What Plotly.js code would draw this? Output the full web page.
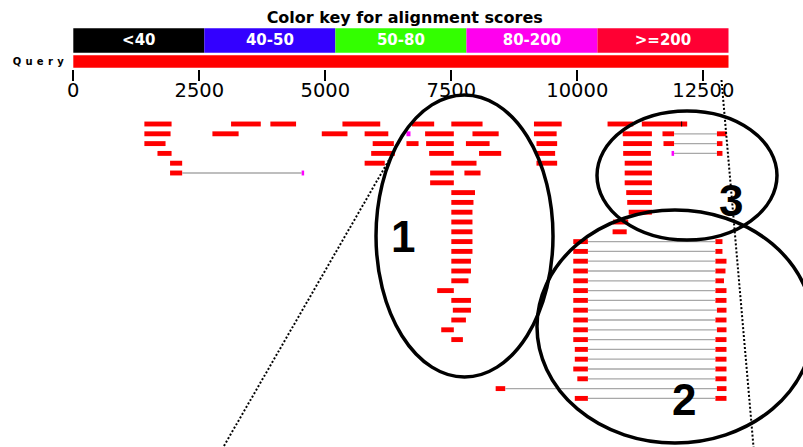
<!DOCTYPE html>
<html>
<head>
<meta charset="utf-8">
<script src="https://cdn.plot.ly/plotly-3.0.1.min.js"></script>
<style>
html,body{margin:0;padding:0;background:#fff;overflow:hidden}
#chart{width:803px;height:447px}
.y2tick text{letter-spacing:4.3px}
</style>
</head>
<body>
<div id="chart"></div>
<script>
// ---- data ----
const queryLength = 13000;
const keyLabels = ['<40', '40-50', '50-80', '80-200', '>=200'];
const keyColors = ['#000000', '#3300ff', '#33ff00', '#ff00ee', '#ff0033'];
const hitColors = ['#000000', '#0000ff', '#00ff00', '#ff00ff', '#ff0000'];
const axisTicks = [0, 2500, 5000, 7500, 10000, 12500];

// one inner array per row of the overview: HSP start / end on the query
const hitStart = [
  [1410, 3130, 3910, 5340, 6720, 7500, 9140, 10600, 11280, 12060],
  [1410, 2760, 4930, 5780, 6610, 6980, 7920, 9140, 10900, 11690, 12770],
  [1410, 5940, 6610, 7000, 7790, 9190, 10910, 11710, 12770],
  [1670, 5910, 7060, 8050, 9190, 10910, 11870, 12770],
  [1920, 5780, 7500, 9190, 10940],
  [1920, 4530, 7080, 7760, 10940],
  [7080, 10940], [7500, 10970], [7500, 10990], [7500, 11020], [7500, 10710], [7500, 10700],
  [7500, 9920, 12740], [7500, 9920, 12740], [7500, 9920, 12740], [7500, 9920, 12740],
  [7500, 9920, 12740], [7220, 9920, 12740], [7500, 9920, 12740], [7530, 9920, 12770],
  [7500, 9920, 12740], [7300, 9920, 12770], [7500, 9920, 12740],
  [9950, 12740], [9950, 12740], [9920, 12740], [10000, 12740], [8380, 12770], [9950, 12740]
];
const hitEnd = [
  [1950, 3720, 4420, 6090, 7160, 8120, 9690, 11110, 12180, 12080],
  [1930, 3280, 5440, 6250, 6690, 7550, 8440, 9590, 11480, 11920, 12960],
  [1830, 6360, 6850, 7550, 8260, 9600, 11480, 11920, 12880],
  [1950, 6380, 7550, 8490, 9560, 11460, 11920, 12880],
  [2160, 6180, 8000, 9600, 11480],
  [2160, 4580, 7550, 8080, 11480],
  [7550, 11480], [7970, 11480], [7940, 11480], [7920, 11480], [7920, 11010], [7920, 10980],
  [7920, 10210, 12880], [7920, 10210, 12880], [7890, 10210, 12960], [7890, 10210, 12940],
  [7840, 10210, 12910], [7550, 10210, 12960], [7890, 10210, 12960], [7890, 10210, 12960],
  [7790, 10210, 12960], [7550, 10210, 12960], [7730, 10210, 12960],
  [10210, 12960], [10210, 12960], [10210, 12960], [10210, 12960], [8570, 12960], [10210, 12960]
];
// score class of each HSP: index into keyLabels
const hitScore = [
  [4, 4, 4, 4, 4, 4, 4, 4, 4, 0],
  [4, 4, 4, 4, 3, 4, 4, 4, 4, 4, 4],
  [4, 4, 4, 4, 4, 4, 4, 4, 4],
  [4, 4, 4, 4, 4, 4, 3, 4],
  [4, 4, 4, 4, 4],
  [4, 3, 4, 4, 4],
  [4, 4], [4, 4], [4, 4], [4, 4], [4, 4], [4, 4],
  [4, 4, 4], [4, 4, 4], [4, 4, 4], [4, 4, 4], [4, 4, 4], [4, 4, 4],
  [4, 4, 4], [4, 4, 4], [4, 4, 4], [4, 4, 4], [4, 4, 4],
  [4, 4], [4, 4], [4, 4], [4, 4], [4, 4], [4, 4]
];
// 1 = HSP of the same subject as the previous HSP in its row (joined by a line)
const hitJoin = [
  [0, 0, 0, 0, 0, 0, 0, 0, 0, 0],
  [0, 0, 0, 0, 0, 0, 0, 0, 0, 0, 1],
  [0, 0, 0, 0, 0, 0, 0, 0, 1],
  [0, 0, 0, 0, 0, 0, 0, 1],
  [0, 0, 0, 0, 0],
  [0, 1, 0, 0, 0],
  [0, 0], [0, 0], [0, 0], [0, 0], [0, 0], [0, 0],
  [0, 0, 1], [0, 0, 1], [0, 0, 1], [0, 0, 1], [0, 0, 1], [0, 0, 1],
  [0, 0, 1], [0, 0, 1], [0, 0, 1], [0, 0, 1], [0, 0, 1],
  [0, 1], [0, 1], [0, 1], [0, 1], [0, 1], [0, 1]
];
const calloutLabels = ['1', '2', '3'];

// ---- build traces ----
const rowY = [], base = [], len = [], colors = [];
const linkX = [], linkY = [];
hitStart.forEach((starts, r) => {
  starts.forEach((s, i) => {
    rowY.push(r); base.push(s); len.push(hitEnd[r][i] - s);
    colors.push(hitColors[hitScore[r][i]]);
    if (hitJoin[r][i]) { linkX.push(hitEnd[r][i - 1], s, null); linkY.push(r, r, null); }
  });
});

const keyW = queryLength / keyLabels.length;
const keyTrace = {
  type: 'bar', orientation: 'h', xaxis: 'x', yaxis: 'y2',
  y: keyLabels.map(() => 0).concat([1]),
  base: keyLabels.map((_, i) => i * keyW).concat([0]),
  x: keyLabels.map(() => keyW).concat([queryLength]),
  width: keyLabels.map(() => 1.16).concat([0.59]),
  marker: {color: keyColors.concat(['#ff0000']), line: {width: 0}},
  text: keyLabels.concat(['']),
  textposition: 'inside', insidetextanchor: 'middle', constraintext: 'none',
  textfont: {family: 'DejaVu Sans', size: 15, weight: 'bold', color: '#ffffff'},
  hoverinfo: 'skip'
};
const linkTrace = {type: 'scatter', mode: 'lines', xaxis: 'x', yaxis: 'y', x: linkX, y: linkY,
  line: {color: '#a8a8a8', width: 1.3}, hoverinfo: 'skip'};
const hitTrace = {type: 'bar', orientation: 'h', xaxis: 'x', yaxis: 'y', y: rowY, base: base, x: len, width: 0.5,
  marker: {color: colors, line: {width: 0}}, hoverinfo: 'skip'};

// ---- callouts ----
const ell = {type: 'circle', xref: 'x', yref: 'y', layer: 'above', line: {color: '#000', width: 3.5}};
const dot = {type: 'line', xref: 'x', yref: 'y', layer: 'above', line: {color: '#000', width: 2, dash: '2px,2px'}};
const numFont = {family: 'Liberation Sans', size: 44, weight: 'bold', color: '#000'};

const layout = {
  width: 803, height: 447,
  margin: {l: 73, r: 0, t: 0, b: 0},
  paper_bgcolor: '#ffffff', plot_bgcolor: 'rgba(0,0,0,0)',
  showlegend: false, barmode: 'overlay', hovermode: false,
  title: {text: 'Color key for alignment scores',
    font: {family: 'DejaVu Sans', size: 16, weight: 'bold', color: '#000'},
    x: 0.504, xref: 'container', xanchor: 'center', y: 0.961, yref: 'container', yanchor: 'middle'},
  xaxis: {
    range: [-6, 14478], anchor: 'free', position: 0.845, side: 'bottom',
    showgrid: false, zeroline: false, showline: false,
    ticks: 'outside', ticklen: 11, tickwidth: 2, tickcolor: '#000000',
    ticklabelstandoff: -8,
    tickvals: axisTicks, ticktext: axisTicks.map(String),
    tickfont: {family: 'DejaVu Sans', size: 19.5, color: '#000'}
  },
  yaxis: {domain: [0, 1], range: [32.959, -12.653], visible: false},
  yaxis2: {domain: [0.8434, 0.9441], range: [1.405, -0.738], anchor: 'x',
    showgrid: false, zeroline: false, showline: false, ticks: '', ticklabelstandoff: 4,
    tickvals: [1], ticktext: ['Query'],
    tickfont: {family: 'DejaVu Sans', size: 10, weight: 'bold', color: '#000'}},
  shapes: [
    Object.assign({}, ell, {x0: 6006, x1: 9518, y0: -2.96, y1: 25.82}),
    Object.assign({}, ell, {x0: 9200, x1: 14676, y0: 8.78, y1: 32.55}),
    Object.assign({}, ell, {x0: 10391, x1: 13962, y0: -1.33, y1: 11.84}),
    Object.assign({}, dot, {x0: 2950, y0: 33.2, x1: 6264, y1: 3.67}),
    Object.assign({}, dot, {x0: 12861, y0: -4.49, x1: 13500, y1: 33.2})
  ],
  annotations: [
    {x: 6542, y: 11.48, text: calloutLabels[0]},
    {x: 12117, y: 28.16, text: calloutLabels[1]},
    {x: 13059, y: 7.81, text: calloutLabels[2]}
  ].map(a => Object.assign(a, {xref: 'x', yref: 'y', showarrow: false, xanchor: 'center', yanchor: 'middle', font: numFont}))
};

Plotly.newPlot('chart', [keyTrace, linkTrace, hitTrace], layout, {staticPlot: true, displayModeBar: false});
</script>
</body>
</html>
